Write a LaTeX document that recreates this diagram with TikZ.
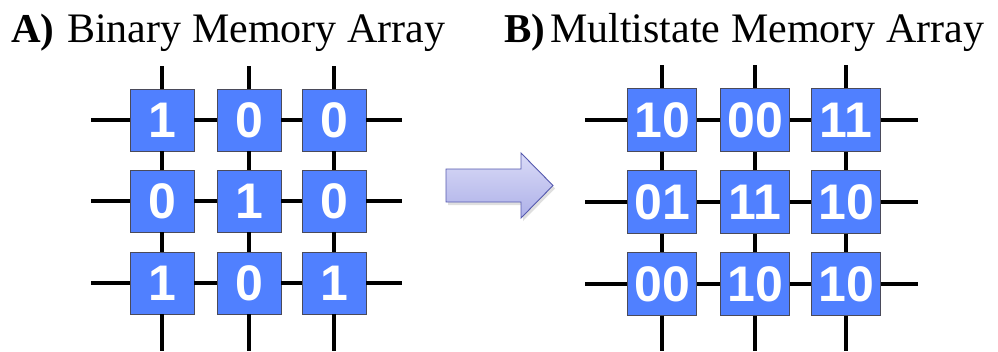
\documentclass[tikz,border=0pt]{standalone}
\usepackage{fontspec}
\setmainfont{Liberation Serif}
\newfontfamily\cellfont{Liberation Sans}
\usetikzlibrary{shadows}

\definecolor{cellblue}{HTML}{5080FF}
\definecolor{cellrim}{HTML}{4A4A5A}
\definecolor{arrowtop}{HTML}{DADBF7}
\definecolor{arrowbot}{HTML}{ADB0E8}
\definecolor{arrowrim}{HTML}{5559AE}

\tikzset{
  cell/.style={draw=cellrim, line width=0.8pt, fill=cellblue,
    minimum width=#1, minimum height=62pt, inner sep=0pt, text=white,
    font=\cellfont\bfseries\fontsize{50}{50}\selectfont},
  wire/.style={line width=3.4pt, black},
  title/.style={anchor=base west, inner sep=0pt, font=\fontsize{42}{42}\selectfont},
}

\begin{document}
\begin{tikzpicture}[x=1pt, y=-1pt]
  \useasboundingbox (0,0) rectangle (998,351);

  % titles
  \node[title, font=\fontsize{41}{41}\selectfont\bfseries] (ta) at (11,42) {A)};
  \node[title] (tal) at (67,42) {Binary Memory Array};
  \node[title, font=\fontsize{41}{41}\selectfont\bfseries] (tb) at (504,42) {B)};
  \node[title] (tbl) at (550,42) {Multistate Memory Array};

  % binary array cells
  \foreach \lbl [count=\k from 0] in {1,0,0,0,1,0,1,0,1} {
    \pgfmathtruncatemacro{\i}{int(\k/3)+1}
    \pgfmathtruncatemacro{\j}{mod(\k,3)+1}
    \pgfmathsetmacro{\x}{{162,249,334}[\j-1]}
    \pgfmathsetmacro{\y}{{120,201,283}[\i-1]}
    \node[cell=64pt] (a-\i-\j) at (\x,\y) {\lbl};
  }
  % wire ends of the binary array
  \foreach \y [count=\i] in {120, 201, 283} {
    \coordinate (al-\i) at (91,\y);
    \coordinate (ar-\i) at (402,\y);
  }
  \foreach \x [count=\j] in {162, 249, 334} {
    \coordinate (at-\j) at (\x,66);
    \coordinate (ab-\j) at (\x,351);
  }
  \foreach \i in {1,2,3} {
    \draw[wire] (al-\i) -- (a-\i-1) -- (a-\i-2) -- (a-\i-3) -- (ar-\i);
    \draw[wire] (at-\i) -- (a-1-\i) -- (a-2-\i) -- (a-3-\i) -- (ab-\i);
  }

  % multistate array cells
  \foreach \lbl [count=\k from 0] in {10,00,11,01,11,10,00,10,10} {
    \pgfmathtruncatemacro{\i}{int(\k/3)+1}
    \pgfmathtruncatemacro{\j}{mod(\k,3)+1}
    \pgfmathsetmacro{\x}{{662,755,846}[\j-1]}
    \pgfmathsetmacro{\y}{{120,202,284}[\i-1]}
    \node[cell=69pt, minimum height=63pt] (b-\i-\j) at (\x,\y) {\lbl};
  }
  % wire ends of the multistate array
  \foreach \y [count=\i] in {120, 202, 284} {
    \coordinate (bl-\i) at (585,\y);
    \coordinate (br-\i) at (918,\y);
  }
  \foreach \x [count=\j] in {662, 755, 846} {
    \coordinate (bt-\j) at (\x,65);
    \coordinate (bb-\j) at (\x,351);
  }
  \foreach \i in {1,2,3} {
    \draw[wire] (bl-\i) -- (b-\i-1) -- (b-\i-2) -- (b-\i-3) -- (br-\i);
    \draw[wire] (bt-\i) -- (b-1-\i) -- (b-2-\i) -- (b-3-\i) -- (bb-\i);
  }

  % block arrow between the arrays
  \path[draw=arrowrim, line width=0.9pt, top color=arrowtop, bottom color=arrowbot,
        drop shadow={shadow xshift=2pt, shadow yshift=-3pt, opacity=0.25}]
    (446,169) -- (521,169) -- (521,153) -- (553,185.5) -- (521,218)
    -- (521,202) -- (446,202) -- cycle;
\end{tikzpicture}
\end{document}
